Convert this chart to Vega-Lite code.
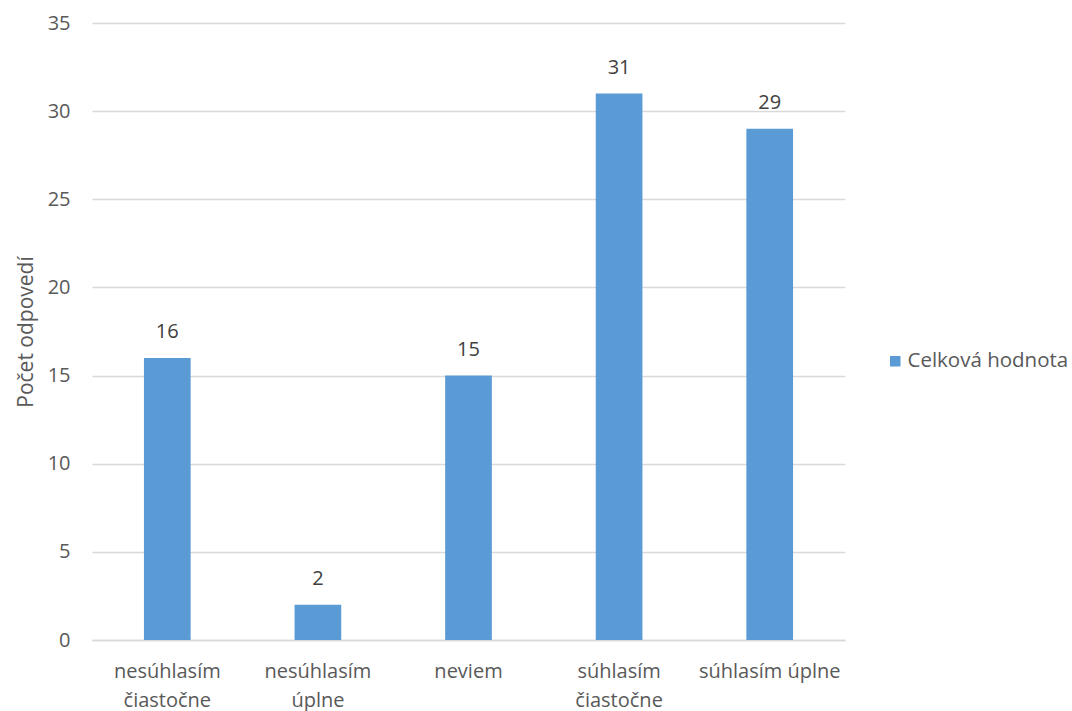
{
  "$schema": "https://vega.github.io/schema/vega-lite/v6.json",
  "width": 753,
  "height": 617,
  "autosize": "none",
  "padding": {"left": 92, "top": 23, "right": 227, "bottom": 71},
  "background": "white",
  "config": {
    "font": "Open Sans",
    "view": {"stroke": null}
  },
  "data": {
    "values": [
      {"kategoria": "nesúhlasím čiastočne", "pocet": 16, "seria": "Celková hodnota"},
      {"kategoria": "nesúhlasím úplne", "pocet": 2, "seria": "Celková hodnota"},
      {"kategoria": "neviem", "pocet": 15, "seria": "Celková hodnota"},
      {"kategoria": "súhlasím čiastočne", "pocet": 31, "seria": "Celková hodnota"},
      {"kategoria": "súhlasím úplne", "pocet": 29, "seria": "Celková hodnota"}
    ]
  },
  "encoding": {
    "x": {
      "field": "kategoria",
      "type": "nominal",
      "sort": null,
      "scale": {"paddingInner": 0.69, "paddingOuter": 0.345},
      "axis": {
        "title": null,
        "labelAngle": 0,
        "labelExpr": "datum.label == 'súhlasím úplne' ? datum.label : split(datum.label, ' ')",
        "labelFontSize": 20,
        "labelColor": "#595959",
        "labelPadding": 21,
        "labelLineHeight": 29,
        "labelBaseline": "top",
        "ticks": false,
        "domainColor": "#d9d9d9",
        "domainWidth": 1.5
      }
    },
    "y": {
      "field": "pocet",
      "type": "quantitative",
      "scale": {"domain": [0, 35]},
      "axis": {
        "title": "Počet odpovedí",
        "titleFontSize": 21,
        "titleFontWeight": "normal",
        "titleColor": "#595959",
        "titlePadding": 11,
        "values": [0, 5, 10, 15, 20, 25, 30, 35],
        "labelFontSize": 20,
        "labelColor": "#595959",
        "labelPadding": 22,
        "ticks": false,
        "domain": false,
        "gridColor": "#d9d9d9",
        "gridWidth": 1.5
      }
    }
  },
  "layer": [
    {
      "mark": {"type": "bar", "color": "#5b9bd5"},
      "encoding": {
        "color": {
          "field": "seria",
          "type": "nominal",
          "scale": {"range": ["#5b9bd5"]},
          "legend": {
            "title": null,
            "orient": "none",
            "legendX": 793,
            "legendY": 328,
            "symbolType": "square",
            "symbolSize": 110,
            "symbolStrokeWidth": 0,
            "labelFontSize": 20.5,
            "labelLimit": 300,
            "labelColor": "#595959",
            "labelOffset": 2
          }
        }
      }
    },
    {
      "mark": {"type": "text", "baseline": "alphabetic", "dy": -20, "fontSize": 20, "color": "#404040"},
      "encoding": {"text": {"field": "pocet", "type": "quantitative"}}
    }
  ]
}
